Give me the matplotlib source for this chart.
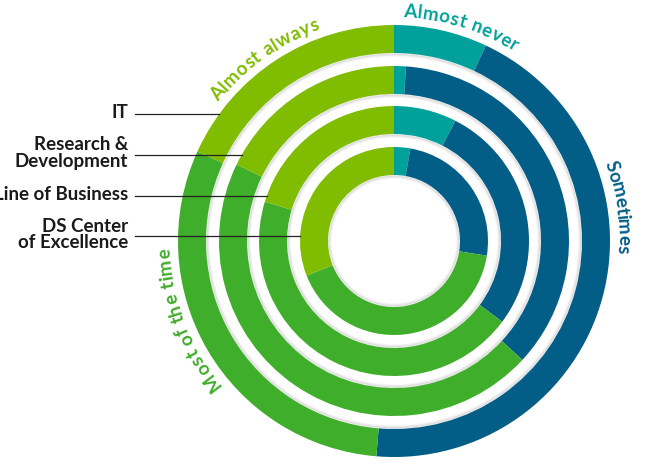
import numpy as np
import matplotlib.pyplot as plt
from matplotlib import font_manager
from matplotlib.ft2font import FT2Font

# answers, clockwise from 12 o'clock
answers = ['Almost never', 'Sometimes', 'Most of the time', 'Almost always']
colors = ['#00a19a', '#035e87', '#3fae2a', '#80bc00']

# rings, outer to inner (percent of respondents)
groups = ['IT', 'Research &\nDevelopment', 'Line of Business', 'DS Center\nof Excellence']
it_vals = [7.0, 44.3, 30.5, 18.2]
rnd_vals = [1.1, 35.8, 45.3, 17.8]
lob_vals = [7.5, 27.7, 44.5, 20.3]
dsc_vals = [2.8, 24.7, 41.5, 31.0]
ring_vals = [it_vals, rnd_vals, lob_vals, dsc_vals]

FONT = 'Lato'
W, H = 645, 467
cx, cy = 394, H - 241
radii = [216, 175, 135, 94]
width = 28

fig = plt.figure(figsize=(W / 100, H / 100), dpi=100)
ax = fig.add_axes([0, 0, 1, 1])

for vals, r in zip(ring_vals, radii):
    ax.pie(vals, colors=colors, radius=r, center=(cx, cy), startangle=90,
           counterclock=False, wedgeprops=dict(width=width, linewidth=0))

# faint shadow just inside the centre hole and the white gaps
for r in [radii[-1] - width] + [rr - width for rr in radii[:-1]]:
    for k in range(1, 4):
        ax.add_patch(plt.Circle((cx, cy), r - k, fill=False, lw=1.2,
                                ec='black', alpha=0.03 * (4 - k)))

fpath = font_manager.findfont(font_manager.FontProperties(family=FONT, weight='bold'))


def arc_text(s, a0, a1, r, color, size=13.5):
    ft = FT2Font(fpath)
    ft.set_size(size, 100)
    adv = np.array([ft.load_char(ord(c)).linearHoriAdvance / 65536 for c in s])
    cs = np.cumsum(adv) - adv / 2
    nat = np.degrees((cs - cs[0]) / (r + 5))
    extra = ((a1 - a0) - nat[-1]) / (len(s) - 1)
    angs = a0 + nat + extra * np.arange(len(s))
    for ch, a in zip(s, angs):
        if ch == ' ':
            continue
        th = np.radians(a)
        ax.text(cx + r * np.sin(th), cy + r * np.cos(th), ch, color=color,
                fontsize=size, fontweight='bold', family=FONT, rotation=-a,
                ha='center', va='baseline', rotation_mode='anchor')


arc_text('Almost never', 4, 31.5, 224, colors[0])
arc_text('Sometimes', 71, 92, 224, colors[1])
arc_text('Most of the time', 232.4, 267, 224, colors[2])
arc_text('Almost always', -50, -20.4, 224, colors[3])

# group labels with leader lines to each ring
label_y = [114, 154.5, 195.5, 236]
for g, r, yy in zip(groups, radii, label_y):
    y = H - yy
    x_end = cx - np.sqrt(r ** 2 - (y - cy) ** 2)
    ax.plot([135, x_end], [y, y], color='#222222', lw=0.9)
    ax.text(128, y + 1.5, g, ha='right', va='center', fontsize=13.5,
            fontweight='bold', family=FONT, color='#1a1a1a', linespacing=0.95)

ax.set_xlim(0, W)
ax.set_ylim(0, H)
ax.set_aspect('equal')
ax.axis('off')
fig.savefig('out.png', dpi=100)
